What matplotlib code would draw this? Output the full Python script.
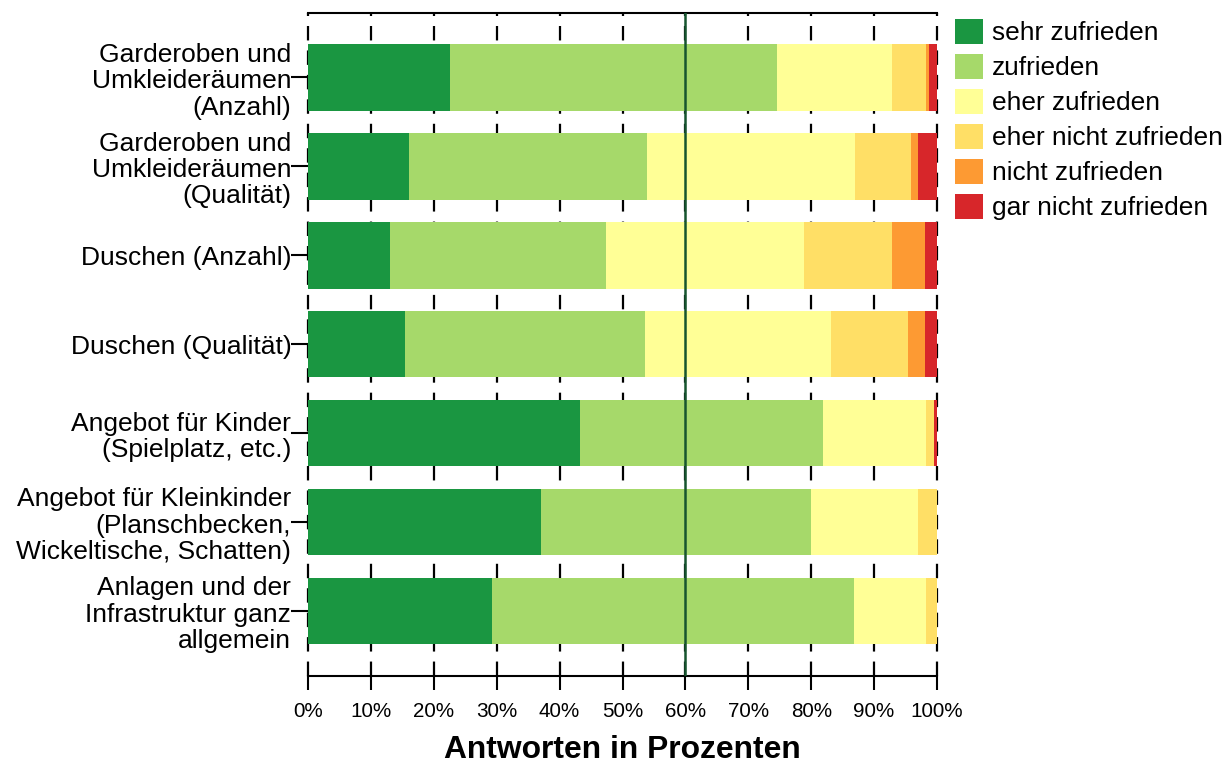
import matplotlib
matplotlib.use("Agg")
import matplotlib.pyplot as plt
from matplotlib.patches import Patch
import numpy as np

plt.rcParams['font.family'] = ['Liberation Sans', 'DejaVu Sans']

categories = [
    "Garderoben und\nUmkleideräumen\n(Anzahl)",
    "Garderoben und\nUmkleideräumen\n(Qualität)",
    "Duschen (Anzahl)",
    "Duschen (Qualität)",
    "Angebot für Kinder\n(Spielplatz, etc.)",
    "Angebot für Kleinkinder\n(Planschbecken,\nWickeltische, Schatten)",
    "Anlagen und der\nInfrastruktur ganz\nallgemein",
]
series_names = ["sehr zufrieden", "zufrieden", "eher zufrieden",
                "eher nicht zufrieden", "nicht zufrieden", "gar nicht zufrieden"]
sehr_zufrieden = [22.6, 16.0, 13.0, 15.5, 43.3, 37.1, 29.2]
zufrieden = [52.0, 37.9, 34.4, 38.1, 38.6, 42.9, 57.6]
eher_zufrieden = [18.2, 33.1, 31.5, 29.5, 16.3, 17.0, 11.4]
eher_nicht_zufrieden = [5.4, 8.9, 13.9, 12.3, 1.3, 3.0, 1.8]
nicht_zufrieden = [0.5, 1.1, 5.3, 2.7, 0.0, 0.0, 0.0]
gar_nicht_zufrieden = [1.3, 3.0, 1.9, 1.9, 0.5, 0.0, 0.0]
colors = ["#1a9641", "#a6d96a", "#ffff96", "#ffdf66", "#fd9a33", "#d7262a"]
x_ticks = [0, 10, 20, 30, 40, 50, 60, 70, 80, 90, 100]
x_ticklabels = ["0%", "10%", "20%", "30%", "40%", "50%", "60%", "70%", "80%", "90%", "100%"]
ref_line = 60

series = [sehr_zufrieden, zufrieden, eher_zufrieden, eher_nicht_zufrieden,
          nicht_zufrieden, gar_nicht_zufrieden]

fig = plt.figure(figsize=(12.28, 7.63), dpi=100)
ax = fig.add_axes([308/1228, 1-676/763, 629/1228, 663/763])

y = np.arange(len(categories))
left = np.zeros(len(categories))
for vals, c in zip(series, colors):
    vals = np.array(vals)
    ax.barh(y, vals, left=left, height=0.75, color=c, edgecolor='none', zorder=2)
    left += vals

for xv in x_ticks:
    ax.axvline(xv, color='black', lw=1.6, linestyle=(0, (6.5, 4.5)), zorder=1, clip_on=False)
ax.axvline(ref_line, color='#17552f', lw=1.8, zorder=3)

ax.set_xlim(0, 100)
ax.set_ylim(6.731, -0.723)
ax.set_yticks(y)
ax.set_yticklabels(categories, fontsize=19, ha='right', multialignment='right', linespacing=1.13)
ax.set_xticks(x_ticks)
ax.set_xticklabels(x_ticklabels, fontsize=14.9)
ax.tick_params(axis='y', length=12, width=1.5, pad=0)
ax.tick_params(axis='x', length=10, width=1.5, pad=9)
ax.spines['left'].set_visible(False)
ax.spines['right'].set_visible(False)
ax.spines['top'].set_linewidth(1.5)
ax.spines['bottom'].set_linewidth(1.5)
ax.set_xlabel("Antworten in Prozenten", fontsize=22.9, fontweight='bold', labelpad=9.5)

handles = [Patch(facecolor=c, edgecolor='none', label=n) for c, n in zip(colors, series_names)]
fig.legend(handles=handles, loc='upper left', bbox_to_anchor=(955/1228, 1-19/763),
           frameon=False, fontsize=18.9, handlelength=1.06, handleheight=1.06,
           handletextpad=0.34, labelspacing=0.335, borderpad=0, borderaxespad=0)

fig.savefig("out.png", dpi=100)
